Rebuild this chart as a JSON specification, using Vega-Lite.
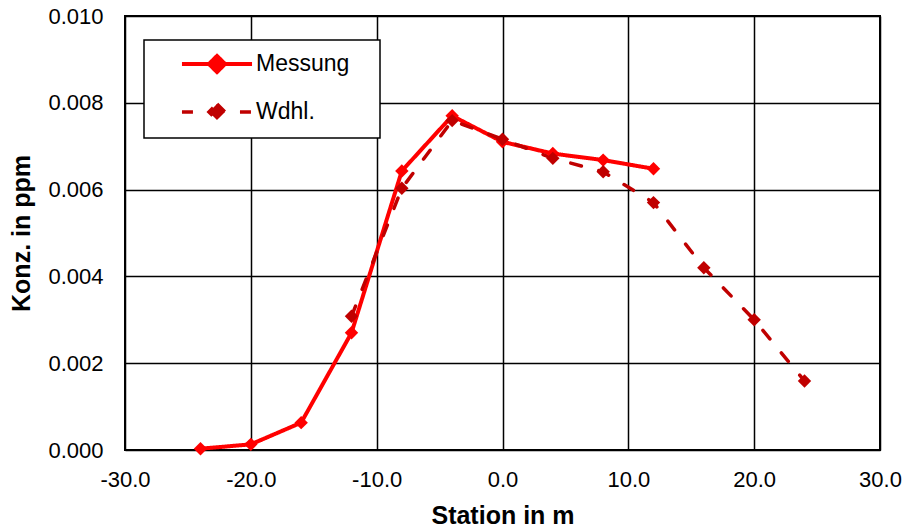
{
  "$schema": "https://vega.github.io/schema/vega-lite/v6.json",
  "width": 755,
  "height": 434,
  "autosize": "none",
  "padding": {"left": 125, "top": 16, "right": 29, "bottom": 81},
  "background": "white",
  "config": {
    "font": "Liberation Sans",
    "view": {"stroke": "black", "strokeWidth": 2},
    "axis": {
      "grid": true,
      "gridColor": "black",
      "gridWidth": 1.5,
      "gridOpacity": 1,
      "domain": false,
      "ticks": false,
      "labelFont": "Liberation Sans",
      "labelFontSize": 22,
      "labelColor": "black",
      "titleFont": "Liberation Sans",
      "titleFontSize": 25,
      "titleFontWeight": "bold",
      "titleColor": "black"
    },
    "legend": {"strokeWidth": 1.5}
  },
  "data": {
    "values": [
      {"series": "Messung", "x": -24, "y": 0.00003},
      {"series": "Messung", "x": -20, "y": 0.00013},
      {"series": "Messung", "x": -16, "y": 0.00063},
      {"series": "Messung", "x": -12, "y": 0.0027},
      {"series": "Messung", "x": -8, "y": 0.00643},
      {"series": "Messung", "x": -4, "y": 0.0077},
      {"series": "Messung", "x": 0, "y": 0.0071},
      {"series": "Messung", "x": 4, "y": 0.00683},
      {"series": "Messung", "x": 8, "y": 0.00668},
      {"series": "Messung", "x": 12, "y": 0.00648},
      {"series": "Wdhl.", "x": -12, "y": 0.00308},
      {"series": "Wdhl.", "x": -8, "y": 0.00603},
      {"series": "Wdhl.", "x": -4, "y": 0.00759},
      {"series": "Wdhl.", "x": 0, "y": 0.00716},
      {"series": "Wdhl.", "x": 4, "y": 0.00672},
      {"series": "Wdhl.", "x": 8, "y": 0.00641},
      {"series": "Wdhl.", "x": 12, "y": 0.0057},
      {"series": "Wdhl.", "x": 16, "y": 0.0042},
      {"series": "Wdhl.", "x": 20, "y": 0.003},
      {"series": "Wdhl.", "x": 24, "y": 0.00159}
    ]
  },
  "mark": {
    "type": "line",
    "strokeCap": "round",
    "strokeJoin": "round",
    "point": {"shape": "diamond", "filled": true, "size": 180, "opacity": 1}
  },
  "encoding": {
    "x": {
      "field": "x",
      "type": "quantitative",
      "scale": {"domain": [-30, 30], "nice": false, "zero": false},
      "axis": {
        "values": [-30, -20, -10, 0, 10, 20, 30],
        "title": "Station in m",
        "labelExpr": "(datum.value < 0 ? '-' : '') + format(abs(datum.value), '.1f')",
        "labelPadding": 19,
        "titlePadding": 13,
        "labelFlush": false
      }
    },
    "y": {
      "field": "y",
      "type": "quantitative",
      "scale": {"domain": [0, 0.01], "nice": false},
      "axis": {
        "values": [0, 0.002, 0.004, 0.006, 0.008, 0.01],
        "format": ".3f",
        "title": "Konz. in ppm",
        "labelPadding": 22,
        "titlePadding": 13,
        "labelFlush": false
      }
    },
    "color": {
      "field": "series",
      "type": "nominal",
      "scale": {"domain": ["Messung", "Wdhl."], "range": ["#FF0000", "#C00000"]},
      "legend": {
        "title": null,
        "orient": "none",
        "legendX": 19,
        "legendY": 24,
        "fillColor": "white",
        "strokeColor": "black",
        "padding": 10,
        "rowPadding": 15,
        "labelFont": "Liberation Sans",
        "labelFontSize": 23,
        "labelColor": "black",
        "labelOffset": 25,
        "symbolOffset": 49,
        "symbolSize": 576,
        "symbolStrokeWidth": 3.5,
        "symbolOpacity": 1,
        "symbolType": "M-2.92,0L2.92,0M0,-0.67L0.67,0L0,0.67L-0.67,0ZM12.05,0",
        "encode": {
          "symbols": {
            "update": {
              "fill": {"scale": "color", "field": "value"},
              "stroke": {"scale": "color", "field": "value"}
            }
          }
        }
      }
    },
    "strokeDash": {
      "field": "series",
      "type": "nominal",
      "scale": {"domain": ["Messung", "Wdhl."], "range": [[1, 0], [11, 18]]},
      "legend": {
        "title": null,
        "orient": "none",
        "legendX": 19,
        "legendY": 24,
        "fillColor": "white",
        "strokeColor": "black",
        "padding": 10,
        "rowPadding": 15,
        "labelFont": "Liberation Sans",
        "labelFontSize": 23,
        "labelColor": "black",
        "labelOffset": 25,
        "symbolOffset": 49,
        "symbolSize": 576,
        "symbolStrokeWidth": 3.5,
        "symbolOpacity": 1,
        "symbolType": "M-2.92,0L2.92,0M0,-0.67L0.67,0L0,0.67L-0.67,0ZM12.05,0",
        "encode": {
          "symbols": {
            "update": {
              "fill": {"scale": "color", "field": "value"},
              "stroke": {"scale": "color", "field": "value"}
            }
          }
        }
      }
    },
    "strokeWidth": {
      "field": "series",
      "type": "nominal",
      "scale": {"domain": ["Messung", "Wdhl."], "range": [4, 3.5]},
      "legend": null
    }
  }
}
